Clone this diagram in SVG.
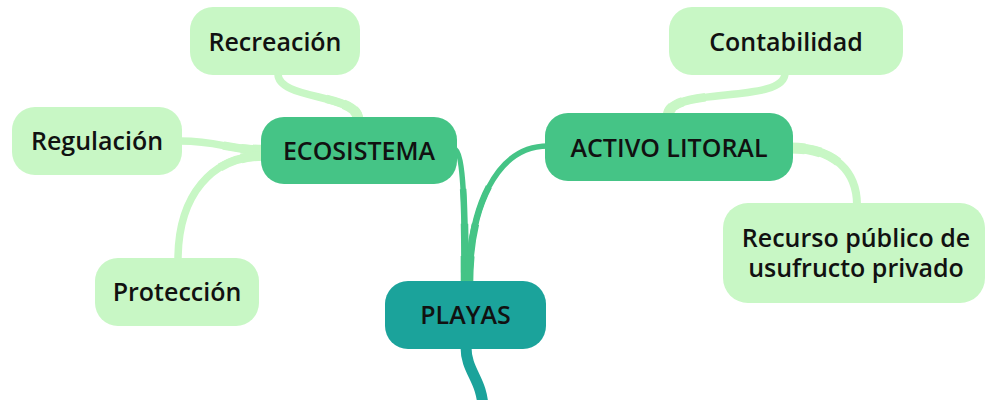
<svg xmlns="http://www.w3.org/2000/svg" width="990" height="400" viewBox="0 0 990 400">
  <style>
    .leaf { fill: #c8f7c5; }
    .main { fill: #45c486; }
    .root { fill: #1ba39b; }
    .lbl { font-family: "Open Sans", "Noto Sans", "DejaVu Sans", sans-serif; font-size: 25px; font-weight: 600; fill: #111; text-anchor: middle; }
    .cl { fill: none; stroke: #c8f7c5; stroke-linecap: butt; }
    .cm { fill: none; stroke: #45c486; stroke-linecap: butt; }
    .cr { fill: none; stroke: #1ba39b; stroke-linecap: butt; }
  </style>
  <rect width="990" height="400" fill="#ffffff"/>
  <g id="connectors">
    <!-- ECOSISTEMA - Recreación -->
    <path class="cl" stroke-width="7.5" d="M 358 119 C 358 94, 278 100, 278 74"/>
    <path class="cl" stroke-width="8.5" stroke-dasharray="40 1000" d="M 358 119 C 358 94, 278 100, 278 74"/>
    <path class="cl" stroke-width="9.5" stroke-dasharray="22 1000" d="M 358 119 C 358 94, 278 100, 278 74"/>
    <path class="cl" stroke-width="10.5" stroke-dasharray="10 1000" d="M 358 119 C 358 94, 278 100, 278 74"/>
    <!-- ECOSISTEMA - Regulación -->
    <path class="cl" stroke-width="7.5" d="M 263 150 C 225 150, 222 141, 180 141"/>
    <path class="cl" stroke-width="8.5" stroke-dasharray="40 1000" d="M 263 150 C 225 150, 222 141, 180 141"/>
    <path class="cl" stroke-width="9.5" stroke-dasharray="22 1000" d="M 263 150 C 225 150, 222 141, 180 141"/>
    <path class="cl" stroke-width="10.5" stroke-dasharray="10 1000" d="M 263 150 C 225 150, 222 141, 180 141"/>
    <!-- ECOSISTEMA - Protección -->
    <path class="cl" stroke-width="7.5" d="M 263 156 C 212 156, 178 195, 178 260"/>
    <path class="cl" stroke-width="8.5" stroke-dasharray="45 1000" d="M 263 156 C 212 156, 178 195, 178 260"/>
    <path class="cl" stroke-width="9.5" stroke-dasharray="22 1000" d="M 263 156 C 212 156, 178 195, 178 260"/>
    <!-- ACTIVO LITORAL - Contabilidad -->
    <path class="cl" stroke-width="7.5" d="M 668 116 C 668 85, 785 105, 785 73"/>
    <path class="cl" stroke-width="8.5" stroke-dasharray="45 1000" d="M 668 116 C 668 85, 785 105, 785 73"/>
    <path class="cl" stroke-width="9.5" stroke-dasharray="22 1000" d="M 668 116 C 668 85, 785 105, 785 73"/>
    <path class="cl" stroke-width="10.5" stroke-dasharray="10 1000" d="M 668 116 C 668 85, 785 105, 785 73"/>
    <!-- ACTIVO LITORAL - Recurso -->
    <path class="cl" stroke-width="8" d="M 791 148 C 835 148, 857 172, 857 205"/>
    <path class="cl" stroke-width="9" stroke-dasharray="50 1000" d="M 791 148 C 835 148, 857 172, 857 205"/>
    <path class="cl" stroke-width="10" stroke-dasharray="30 1000" d="M 791 148 C 835 148, 857 172, 857 205"/>
    <path class="cl" stroke-width="11" stroke-dasharray="14 1000" d="M 791 148 C 835 148, 857 172, 857 205"/>
    <!-- PLAYAS - ECOSISTEMA -->
    <path class="cm" stroke-width="5.5" d="M 465 284 C 465 215, 464 150, 454 149"/>
    <path class="cm" stroke-width="6.5" stroke-dasharray="95 1000" d="M 465 284 C 465 215, 464 150, 454 149"/>
    <path class="cm" stroke-width="7.5" stroke-dasharray="60 1000" d="M 465 284 C 465 215, 464 150, 454 149"/>
    <path class="cm" stroke-width="8.5" stroke-dasharray="28 1000" d="M 465 284 C 465 215, 464 150, 454 149"/>
    <!-- PLAYAS - ACTIVO LITORAL -->
    <path class="cm" stroke-width="5.5" d="M 469 284 C 469 210, 495 146, 548 146"/>
    <path class="cm" stroke-width="6.5" stroke-dasharray="100 1000" d="M 469 284 C 469 210, 495 146, 548 146"/>
    <path class="cm" stroke-width="7.5" stroke-dasharray="60 1000" d="M 469 284 C 469 210, 495 146, 548 146"/>
    <path class="cm" stroke-width="8.5" stroke-dasharray="28 1000" d="M 469 284 C 469 210, 495 146, 548 146"/>
    <!-- PLAYAS - below -->
    <path class="cr" stroke-width="11" d="M 466 347 C 466 372, 483 380, 483 410"/>
  </g>
  <g id="node-recreacion">
    <rect class="leaf" x="190" y="7" width="170" height="68" rx="23"/>
    <text class="lbl" x="275" y="51">Recreación</text>
  </g>
  <g id="node-regulacion">
    <rect class="leaf" x="12" y="107" width="170" height="68" rx="23"/>
    <text class="lbl" x="97" y="150">Regulación</text>
  </g>
  <g id="node-proteccion">
    <rect class="leaf" x="95" y="258" width="164" height="68" rx="23"/>
    <text class="lbl" x="177" y="301">Protección</text>
  </g>
  <g id="node-ecosistema">
    <rect class="main" x="261" y="117" width="196" height="67" rx="23"/>
    <text class="lbl" x="359" y="160">ECOSISTEMA</text>
  </g>
  <g id="node-playas">
    <rect class="root" x="385" y="281" width="161" height="68" rx="23"/>
    <text class="lbl" x="465.5" y="324">PLAYAS</text>
  </g>
  <g id="node-contabilidad">
    <rect class="leaf" x="669" y="7" width="234" height="68" rx="23"/>
    <text class="lbl" x="786" y="51">Contabilidad</text>
  </g>
  <g id="node-activo">
    <rect class="main" x="545" y="113" width="248" height="68" rx="23"/>
    <text class="lbl" x="669" y="157">ACTIVO LITORAL</text>
  </g>
  <g id="node-recurso">
    <rect class="leaf" x="723" y="203" width="262" height="100" rx="25"/>
    <text class="lbl"><tspan x="856" y="247">Recurso público de</tspan><tspan x="856" y="277">usufructo privado</tspan></text>
  </g>
</svg>
